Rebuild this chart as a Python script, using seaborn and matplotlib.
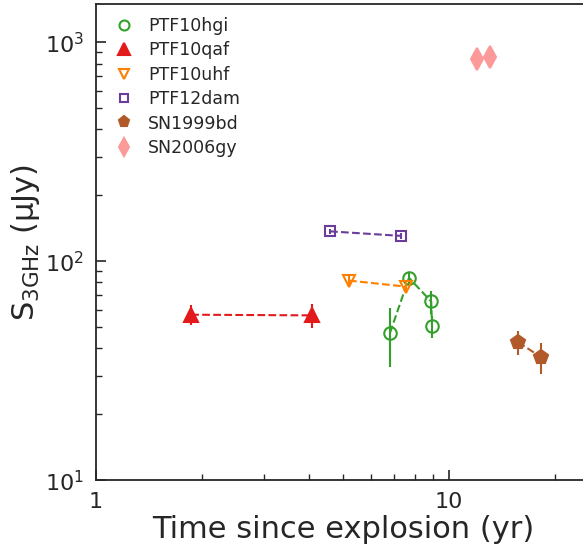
import numpy as np
import pandas as pd
import matplotlib
matplotlib.use("Agg")
import matplotlib.pyplot as plt
import matplotlib.ticker as mticker
import seaborn as sns

# radio flux at 3 GHz vs time since explosion
names = ["PTF10hgi", "PTF10qaf", "PTF10uhf", "PTF12dam", "SN1999bd", "SN2006gy"]
t_hgi = [6.8, 7.7, 8.9, 8.95]
s_hgi = [47, 84, 65.5, 50.5]
e_hgi = [14, 5, 8, 6]
t_qaf = [1.86, 4.09]
s_qaf = [57, 56.6]
e_qaf = [6, 7]
t_uhf = [5.21, 7.55]
s_uhf = [81.6, 76.6]
e_uhf = [4, 4]
t_dam = [4.6, 7.31]
s_dam = [137, 130.6]
e_dam = [4, 4]
t_bd = [15.7, 18.2]
s_bd = [42.7, 36.5]
e_bd = [5.5, 6]
t_gy = [12.0, 13.1]
s_gy = [837, 855]
e_gy = [15, 15]

times = [t_hgi, t_qaf, t_uhf, t_dam, t_bd, t_gy]
fluxes = [s_hgi, s_qaf, s_uhf, s_dam, s_bd, s_gy]
errs = [e_hgi, e_qaf, e_uhf, e_dam, e_bd, e_gy]

colors = ["#33a02c", "#e31a1c", "#ff7f00", "#6a3d9a", "#b15928", "#fb9a99"]
markers = ["o", "^", "v", "s", "p", "d"]
filled = [False, True, False, False, True, True]
sizes = [9, 10, 9, 7, 10, 11]
dashed = [True, True, True, True, True, False]

sns.set_theme(style="ticks")
plt.rcParams["font.family"] = ["DejaVu Sans"]

fig = plt.figure(figsize=(5.83, 5.5), dpi=100)
ax = fig.add_axes([0.1647, 0.127, 0.8465, 0.866])

for i, name in enumerate(names):
    df = pd.DataFrame({"t": times[i], "s": fluxes[i], "e": errs[i]})
    if dashed[i]:
        sns.lineplot(data=df, x="t", y="s", ax=ax, color=colors[i],
                     linestyle="--", linewidth=1.5, legend=False, sort=False)
    ax.errorbar(df["t"], df["s"], yerr=df["e"], fmt="none",
                ecolor=colors[i], elinewidth=1.5, capsize=0)
    ax.plot(df["t"], df["s"], linestyle="none", marker=markers[i],
            ms=sizes[i], mec=colors[i], mew=1.5,
            mfc=colors[i] if filled[i] else "none", label=name)

ax.set_xscale("log")
ax.set_yscale("log")
ax.set_xlim(1, 25)
ax.set_ylim(10, 1500)
ax.xaxis.set_major_formatter(mticker.FuncFormatter(lambda x, p: f"{x:g}"))
ax.tick_params(which="both", direction="in", labelsize=16, pad=8.5)
ax.tick_params(which="major", length=7, width=1.2)
ax.tick_params(which="minor", length=4, width=1)
for sp in ax.spines.values():
    sp.set_linewidth(1.3)

ax.set_xlabel("Time since explosion (yr)", fontsize=22, labelpad=2)
ax.set_ylabel(r"S$_{\rm 3GHz}$ (μJy)", fontsize=22, labelpad=2)

ax.legend(loc="upper left", bbox_to_anchor=(0.012, 1.0), frameon=False,
          fontsize=12.5, markerscale=0.8, handlelength=1.0,
          handletextpad=0.9, borderaxespad=0.25, labelspacing=0.37,
          borderpad=0.5)

fig.savefig("out.png", dpi=100)
